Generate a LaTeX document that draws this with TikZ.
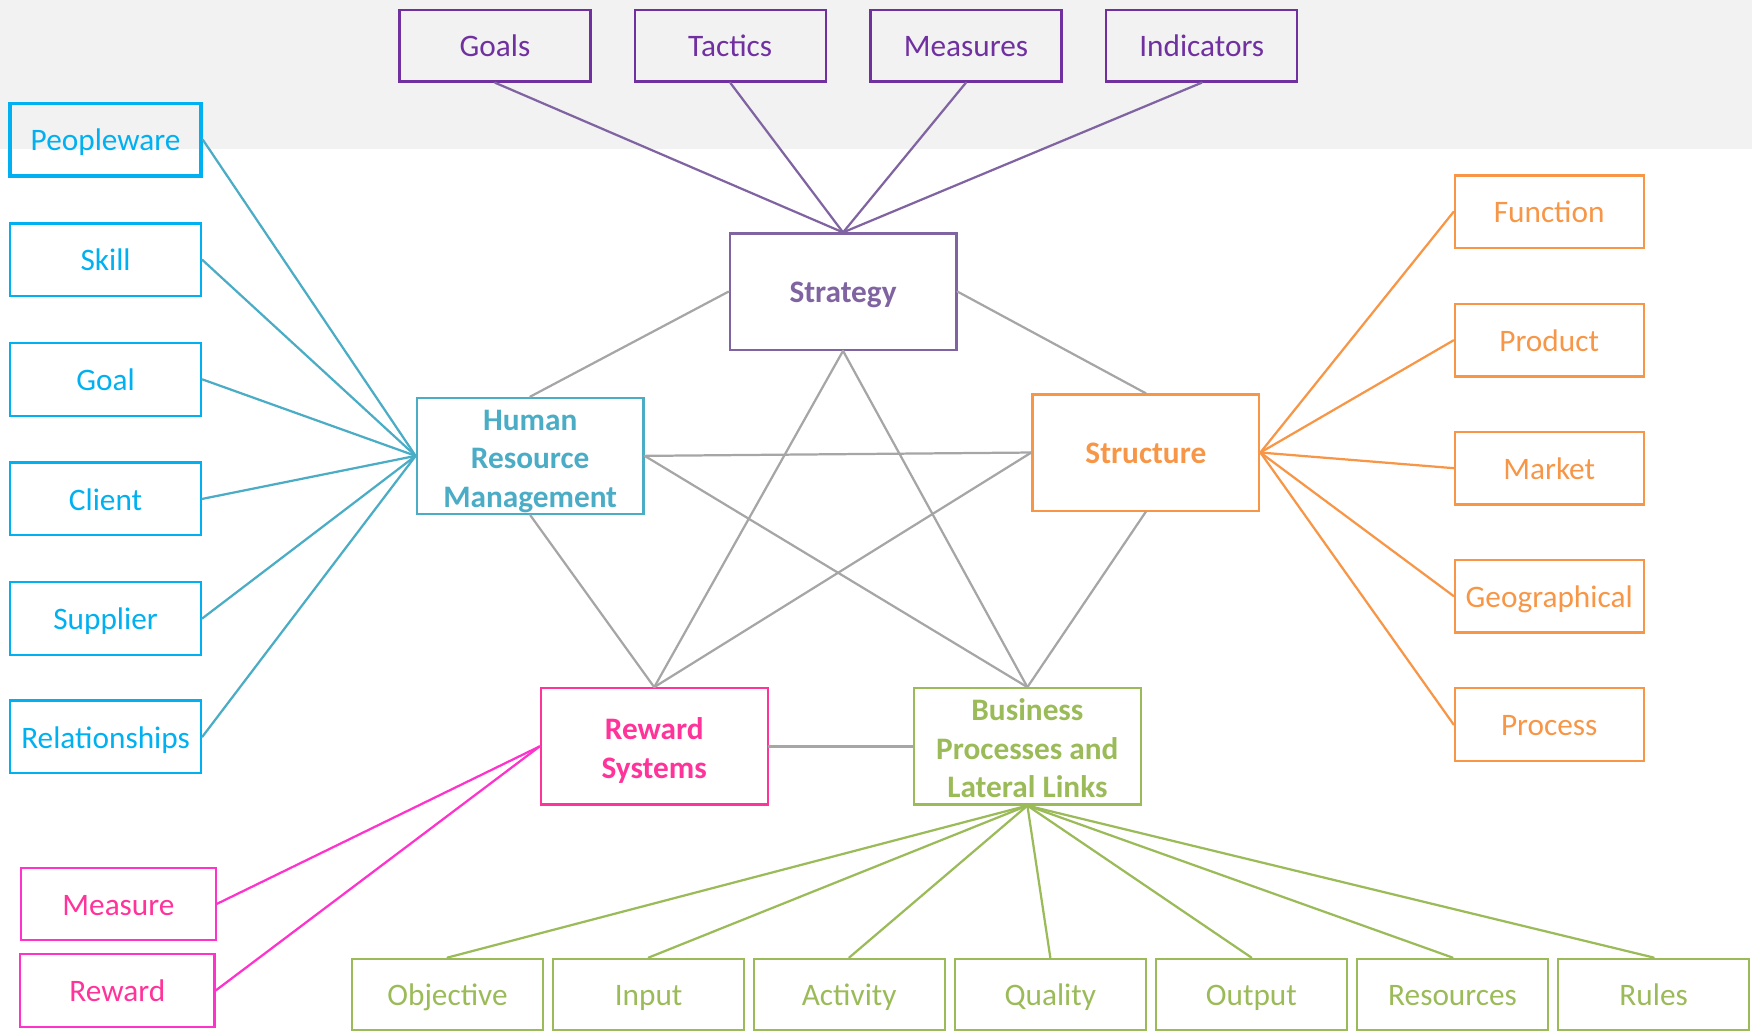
\documentclass[tikz,border=0pt]{standalone}
\usepackage{fontspec}
\setmainfont{Carlito}
\definecolor{band}{HTML}{F2F2F2}
\definecolor{purp}{HTML}{7030A0}
\definecolor{strat}{HTML}{8064A2}
\definecolor{cyanb}{HTML}{00B0F0}
\definecolor{teal}{HTML}{4BACC6}
\definecolor{orng}{HTML}{F79646}
\definecolor{grn}{HTML}{9BBB59}
\definecolor{pnk}{HTML}{FF3399}
\definecolor{mag}{HTML}{FF33CC}
\definecolor{gry}{HTML}{A6A6A6}
\begin{document}
\begin{tikzpicture}[x=1pt,y=-1pt,
  box/.style={draw, line width=2pt, inner sep=0pt, align=center,
    text height=20pt, text depth=0pt,
    font=\fontsize{28}{34.5}\selectfont},
  leaf/.style={box, minimum width=171pt, minimum height=64pt},
  hub/.style={box, minimum width=203pt, minimum height=104pt, font=\fontsize{28}{34.5}\selectfont\bfseries},
  twolines/.style={text height=57.5pt},
  threelines/.style={text height=92pt},
  topbox/.style={leaf, draw=purp, text=purp},
  hrleaf/.style={leaf, minimum height=65pt, draw=cyanb, text=cyanb},
  stleaf/.style={leaf, minimum width=169pt, minimum height=65pt, draw=orng, text=orng},
  rwleaf/.style={leaf, minimum width=174pt, draw=mag, text=pnk},
  bpleaf/.style={leaf, draw=grn, text=grn},
  link/.style={line width=2pt, line cap=round},
  core/.style={link, draw=gry}
]
\useasboundingbox (0,0) rectangle (1568,925);
\fill[band] (0,0) rectangle (1568,133);

% hubs
\node[hub, draw=strat, text=strat] (strategy) at (754.5,261) {Strategy};
\node[hub, threelines, draw=teal, text=teal] (hrm) at (474.5,408) {Human\\Resource\\Management};
\node[hub, draw=orng, text=orng] (structure) at (1025.5,405) {Structure};
\node[hub, twolines, draw=pnk, text=pnk] (reward) at (585.5,668) {Reward\\Systems};
\node[hub, threelines, draw=grn, text=grn] (bp) at (919.5,668) {Business\\Processes and\\Lateral Links};

% strategy elements
\node[topbox] (goals) at (443,41) {Goals};
\node[topbox] (tactics) at (653.5,41) {Tactics};
\node[topbox] (measures) at (864.5,41) {Measures};
\node[topbox] (indicators) at (1075.5,41) {Indicators};

% HR elements
\node[hrleaf, line width=3pt] (peopleware) at (94.5,125) {Peopleware};
\node[hrleaf] (skill) at (94.5,232.5) {Skill};
\node[hrleaf] (goal) at (94.5,339.5) {Goal};
\node[hrleaf] (client) at (94.5,446.5) {Client};
\node[hrleaf] (supplier) at (94.5,553.5) {Supplier};
\node[hrleaf] (relationships) at (94.5,659.5) {Relationships};

% structure elements
\node[stleaf] (function) at (1386.5,189.5) {Function};
\node[stleaf] (product) at (1386.5,304.5) {Product};
\node[stleaf] (market) at (1386.5,419) {Market};
\node[stleaf] (geo) at (1386.5,533.5) {Geographical};
\node[stleaf] (process) at (1386.5,648.5) {Process};

% reward elements
\node[rwleaf] (measure) at (106,809) {Measure};
\node[rwleaf, minimum height=65pt] (rewardleaf) at (105,886.5) {Reward};

% business process elements
\node[bpleaf] (objective) at (400.5,890) {Objective};
\node[bpleaf] (input) at (580.5,890) {Input};
\node[bpleaf] (activity) at (760,890) {Activity};
\node[bpleaf] (quality) at (940,890) {Quality};
\node[bpleaf] (output) at (1120,890) {Output};
\node[bpleaf] (resources) at (1300,890) {Resources};
\node[bpleaf] (rules) at (1480,890) {Rules};

% star of the five hubs
\draw[core] (strategy.west) -- (hrm.north);
\draw[core] (strategy.east) -- (structure.north);
\draw[core] (strategy.south) -- (reward.north);
\draw[core] (strategy.south) -- (bp.north);
\draw[core] (hrm.east) -- (structure.west);
\draw[core] (hrm.east) -- (bp.north);
\draw[core] (hrm.south) -- (reward.north);
\draw[core] (structure.west) -- (reward.north);
\draw[core] (structure.south) -- (bp.north);
\draw[core] (reward.east) -- (bp.west);

% spokes
\foreach \n in {goals,tactics,measures,indicators}
  \draw[link, draw=strat] (\n.south) -- (strategy.north);
\foreach \n in {peopleware,skill,goal,client,supplier,relationships}
  \draw[link, draw=teal] (\n.east) -- (hrm.west);
\foreach \n in {function,product,market,geo,process}
  \draw[link, draw=orng] (\n.west) -- (structure.east);
\foreach \n in {measure,rewardleaf}
  \draw[link, draw=mag] (\n.east) -- (reward.west);
\foreach \n in {objective,input,activity,quality,output,resources,rules}
  \draw[link, draw=grn] (\n.north) -- (bp.south);
\end{tikzpicture}
\end{document}
